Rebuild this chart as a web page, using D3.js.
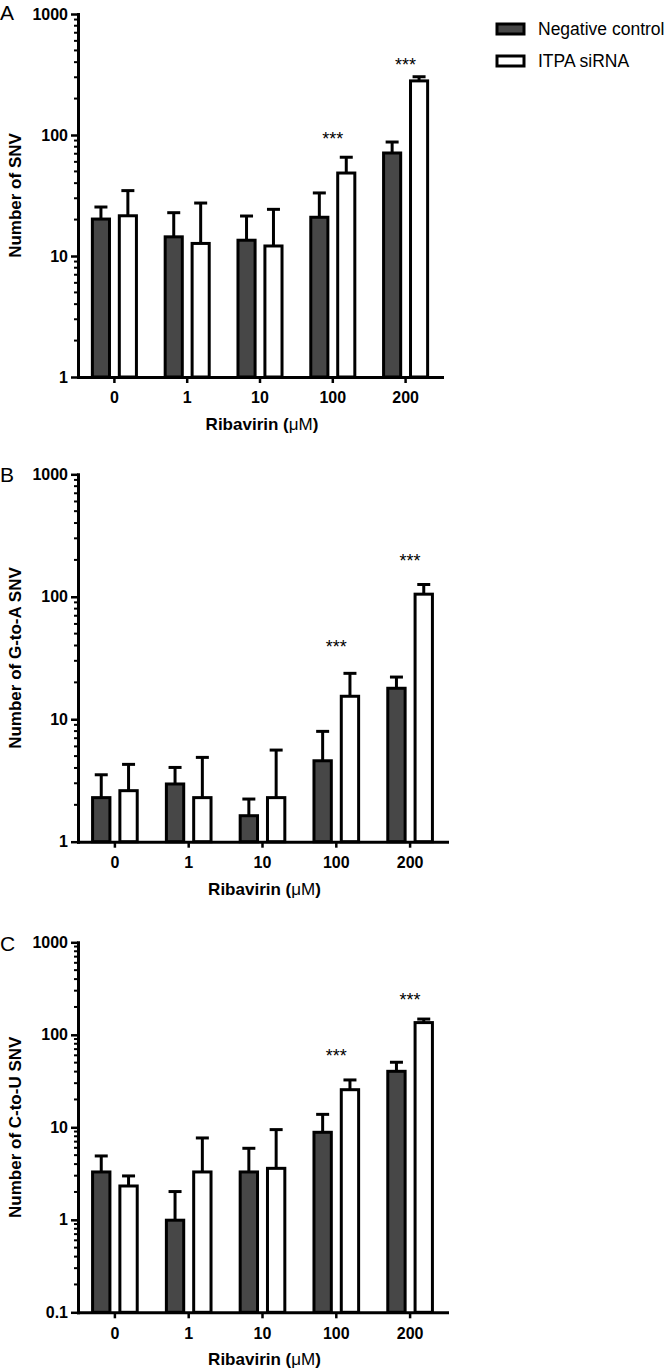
<!DOCTYPE html>
<html>
<head>
<meta charset="utf-8">
<script src="https://cdn.jsdelivr.net/npm/d3@7"></script>
<style>
  html, body { margin: 0; padding: 0; background: #fff; }
  svg { display: block; font-family: "Liberation Sans", Arial, sans-serif; }
</style>
</head>
<body>
<svg id="chart" width="666" height="1369"></svg>
<script>
// ---------- DATA ----------
const categories = ["0", "1", "10", "100", "200"];
const seriesNames = ["Negative control", "ITPA siRNA"];
const xTitle = "Ribavirin (";
const xTitleUnit = "\u03BCM";

// Panel A: Number of SNV
const aControl    = [20.2, 14.4, 13.5, 20.9, 71];
const aControlErr = [25.4, 22.8, 21.4, 33.2, 87.5];
const aItpa       = [21.5, 12.7, 12.1, 48.5, 280];
const aItpaErr    = [34.7, 27.4, 24.3, 65.5, 303];
const aStars      = [null, null, null, 100, 410];
const aTicks      = [1, 10, 100, 1000];

// Panel B: Number of G-to-A SNV
const bControl    = [2.29, 2.96, 1.63, 4.58, 17.9];
const bControlErr = [3.52, 4.04, 2.23, 7.96, 22.1];
const bItpa       = [2.61, 2.29, 2.29, 15.4, 105];
const bItpaErr    = [4.28, 4.88, 5.6, 23.7, 126];
const bStars      = [null, null, null, 41.6, 212];
const bTicks      = [1, 10, 100, 1000];

// Panel C: Number of C-to-U SNV
const cControl    = [3.29, 0.99, 3.29, 8.83, 40.3];
const cControlErr = [4.9, 2.02, 5.93, 13.8, 50.5];
const cItpa       = [2.32, 3.29, 3.6, 25.5, 135.5];
const cItpaErr    = [2.98, 7.67, 9.44, 32.5, 148];
const cStars      = [null, null, null, 65.8, 263];
const cTicks      = [0.1, 1, 10, 100, 1000];

const starLabel = "***";

// ---------- LAYOUT ----------
const svg = d3.select("#chart");
const darkFill = "#474747";

const panels = [
  { letter: "A", yLabel: "Number of SNV", control: aControl, controlErr: aControlErr,
    itpa: aItpa, itpaErr: aItpaErr, stars: aStars, ticks: aTicks,
    top: 14, bottom: 377, left: 78, right: 442, letterY: 20 },
  { letter: "B", yLabel: "Number of G-to-A SNV", control: bControl, controlErr: bControlErr,
    itpa: bItpa, itpaErr: bItpaErr, stars: bStars, ticks: bTicks,
    top: 474.3, bottom: 841.7, left: 78, right: 447, letterY: 482 },
  { letter: "C", yLabel: "Number of C-to-U SNV", control: cControl, controlErr: cControlErr,
    itpa: cItpa, itpaErr: cItpaErr, stars: cStars, ticks: cTicks,
    top: 942.3, bottom: 1312.3, left: 78, right: 447, letterY: 951 }
];

panels.forEach(p => {
  const g = svg.append("g");
  const ext = d3.extent(p.ticks);
  const y = d3.scaleLog().domain(ext).range([p.bottom, p.top]);
  const x = d3.scaleBand().domain(categories).range([p.left, p.right]).padding(0);
  const step = x.bandwidth();
  const barW = step * 0.235;   // inner width (stroke added)
  const offset = step * 0.185;

  // minor ticks
  const minor = [];
  for (let d = ext[0]; d < ext[1] - 1e-9; d *= 10) {
    for (let k = 2; k <= 9; k++) minor.push(d * k);
  }
  g.append("g").selectAll("line").data(minor).join("line")
    .attr("x1", p.left - 4).attr("x2", p.left)
    .attr("y1", d => y(d)).attr("y2", d => y(d))
    .attr("stroke", "#000").attr("stroke-width", 2);

  // Y axis
  const yAxis = d3.axisLeft(y).tickValues(p.ticks)
    .tickFormat(d => (d < 1 ? d3.format(".1f")(d) : d3.format("d")(d)))
    .tickSize(7).tickSizeOuter(0).tickPadding(3);
  const ya = g.append("g").attr("transform", `translate(${p.left},0)`).call(yAxis);
  ya.select(".domain").attr("stroke-width", 3).attr("stroke-linecap", "square");
  ya.selectAll(".tick line").attr("stroke-width", 2.5);
  ya.selectAll(".tick text").attr("font-size", 16).attr("font-weight", "bold")
    .attr("fill", "#000").attr("font-family", "Liberation Sans, Arial, sans-serif");

  // bars
  const drawSeries = (vals, errs, dx, fill) => {
    g.append("g").selectAll("line.err").data(categories).join("line")
      .attr("x1", c => x(c) + step / 2 + dx).attr("x2", c => x(c) + step / 2 + dx)
      .attr("y1", (c, i) => y(vals[i])).attr("y2", (c, i) => y(errs[i]))
      .attr("stroke", "#000").attr("stroke-width", 3);
    g.append("g").selectAll("line.cap").data(categories).join("line")
      .attr("x1", c => x(c) + step / 2 + dx - 6.5).attr("x2", c => x(c) + step / 2 + dx + 6.5)
      .attr("y1", (c, i) => y(errs[i])).attr("y2", (c, i) => y(errs[i]))
      .attr("stroke", "#000").attr("stroke-width", 3);
    g.append("g").selectAll("rect").data(categories).join("rect")
      .attr("x", c => x(c) + step / 2 + dx - barW / 2)
      .attr("width", barW)
      .attr("y", (c, i) => y(vals[i]))
      .attr("height", (c, i) => p.bottom - y(vals[i]))
      .attr("fill", fill).attr("stroke", "#000").attr("stroke-width", 3);
  };
  drawSeries(p.control, p.controlErr, -offset, darkFill);
  drawSeries(p.itpa, p.itpaErr, offset, "#fff");

  // X axis
  const xAxis = d3.axisBottom(x).tickSize(6).tickSizeOuter(0).tickPadding(9);
  const xa = g.append("g").attr("transform", `translate(0,${p.bottom})`).call(xAxis);
  xa.select(".domain").attr("stroke-width", 3).attr("stroke-linecap", "square");
  xa.selectAll(".tick line").attr("stroke-width", 2.5);
  xa.selectAll(".tick text").attr("font-size", 16).attr("font-weight", "bold")
    .attr("fill", "#000").attr("font-family", "Liberation Sans, Arial, sans-serif");

  // stars
  g.append("g").selectAll("text").data(categories.filter((c, i) => p.stars[i] != null)).join("text")
    .attr("x", c => x(c) + step / 2)
    .attr("y", c => y(p.stars[categories.indexOf(c)]) + 10)
    .attr("text-anchor", "middle").attr("font-size", 18).attr("fill", "#000")
    .text(starLabel);

  // x title
  const xt = g.append("text")
    .attr("x", (p.left + p.right) / 2 + 2)
    .attr("y", p.bottom + 53)
    .attr("text-anchor", "middle").attr("font-size", 17).attr("font-weight", "bold");
  xt.append("tspan").text(xTitle);
  xt.append("tspan").attr("font-weight", "normal").text(xTitleUnit);
  xt.append("tspan").text(")");

  // y title
  g.append("text")
    .attr("transform", `translate(21,${(p.top + p.bottom) / 2}) rotate(-90)`)
    .attr("text-anchor", "middle").attr("font-size", 17).attr("font-weight", "bold")
    .text(p.yLabel);

  // panel letter
  g.append("text").attr("x", 0).attr("y", p.letterY)
    .attr("font-size", 21).text(p.letter);
});

// legend
const legend = svg.append("g");
const legendFills = [darkFill, "#fff"];
const legendY = [29, 61];
legend.selectAll("rect").data(seriesNames).join("rect")
  .attr("x", 497).attr("width", 27)
  .attr("y", (d, i) => legendY[i] - 5).attr("height", 10)
  .attr("fill", (d, i) => legendFills[i]).attr("stroke", "#000").attr("stroke-width", 3);
legend.selectAll("text").data(seriesNames).join("text")
  .attr("x", 538).attr("y", (d, i) => legendY[i] + 6)
  .attr("font-size", 17.5).text(d => d);
</script>
</body>
</html>
